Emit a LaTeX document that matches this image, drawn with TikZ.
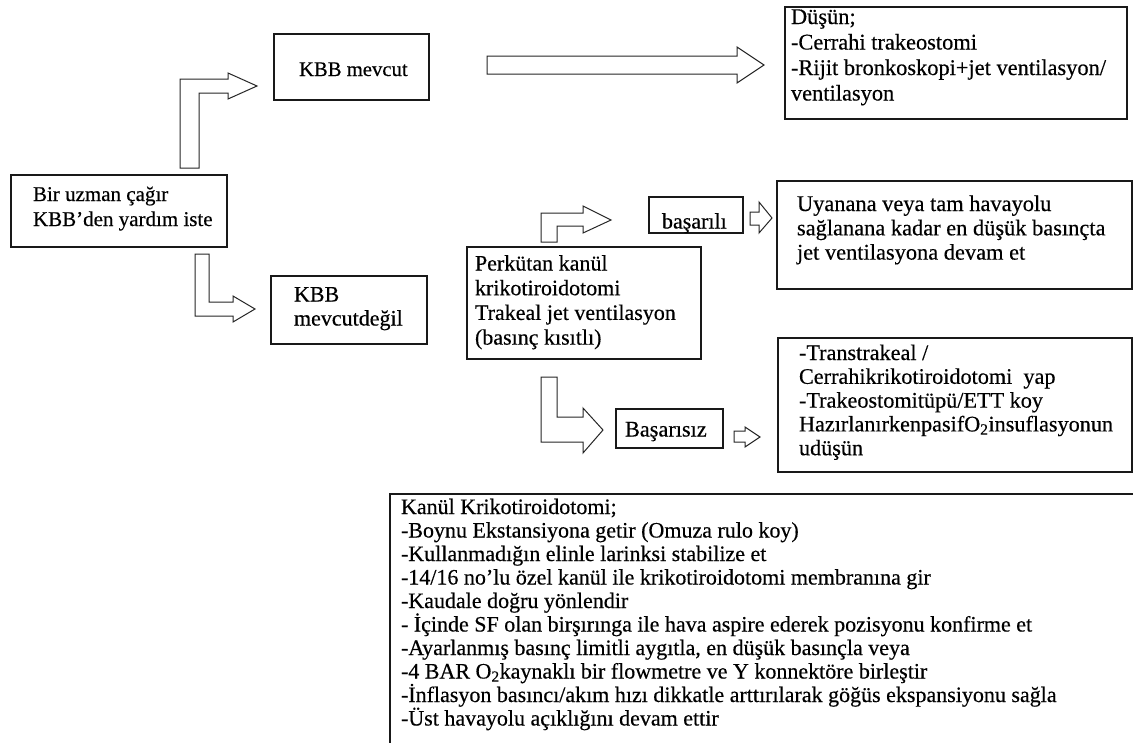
\documentclass[tikz,border=0pt]{standalone}
\usepackage{fontspec}
\setmainfont[FakeBold=0.4]{Liberation Serif}
\newcommand\fsz[2]{\fontsize{#1}{#2}\selectfont\lineskiplimit=-100pt\lineskip=0pt}
\newcommand\fl{\rule{0pt}{18pt}}
\begin{document}
\begin{tikzpicture}[x=1pt,y=-1pt,
  box/.style={draw=black!90, line width=1.3pt, fill=white, anchor=north west, inner sep=0pt, outer sep=0pt},
  txt/.style={anchor=north west, inner sep=0pt, outer sep=0pt, align=left, text=black},
  barrow/.style={draw=black!85, line width=1pt, fill=white, line join=miter}]
\useasboundingbox (0,0) rectangle (1133,742);
\clip (0,0) rectangle (1133,742);
\fill[white] (0,0) rectangle (1133,742);

% boxes
\node[box, minimum width=216pt, minimum height=72pt]  (uzman)     at (11,175)  {};
\node[box, minimum width=155pt, minimum height=66pt]  (mevcut)    at (274,34)  {};
\node[box, minimum width=342pt, minimum height=112pt] (dusun)     at (785,7)   {};
\node[box, minimum width=156pt, minimum height=68pt]  (degil)     at (271,276) {};
\node[box, minimum width=234pt, minimum height=112pt] (perk)      at (467,247) {};
\node[box, minimum width=94pt,  minimum height=36pt]  (basarili)  at (649,197) {};
\node[box, minimum width=355pt, minimum height=108pt] (uyan)      at (777,181) {};
\node[box, minimum width=107pt, minimum height=39pt]  (basarisiz) at (616,409) {};
\node[box, minimum width=354pt, minimum height=134pt] (trans)     at (778,338) {};
\node[box, minimum width=760pt, minimum height=300pt] (kanul)     at (390,494) {};

% texts (node y = first baseline - 18)
\node[txt, font=\fsz{21}{25}] (uzman-t) at (33,183) {\fl Bir uzman çağır\\KBB’den yardım iste};
\node[txt, font=\fsz{20.7}{24}] (mevcut-t) at (299,58) {\fl KBB mevcut};
\node[txt, font=\fsz{22.4}{25.5}] (dusun-t) at (791,6) {\fl Düşün;\\-Cerrahi trakeostomi\\-Rijit bronkoskopi+jet ventilasyon/\\ventilasyon};
\node[txt, font=\fsz{22}{24}] (degil-t) at (294,283.5) {\fl KBB\\mevcutdeğil};
\node[txt, font=\fsz{22}{24.7}] (perk-t) at (475,252.5) {\fl Perkütan kanül\\krikotiroidotomi\\Trakeal jet ventilasyon\\(basınç kısıtlı)};
\node[txt, font=\fsz{22}{24}] (basarili-t) at (662,210.5) {\fl başarılı};
\node[txt, font=\fsz{22.4}{24.3}] (uyan-t) at (797,193) {\fl Uyanana veya tam havayolu\\sağlanana kadar en düşük basınçta\\jet ventilasyona devam et};
\node[txt, font=\fsz{22.2}{23.8}] (trans-t) at (799,342) {\fl -Transtrakeal /\\Cerrahikrikotiroidotomi\ \ yap\\-Trakeostomitüpü/ETT koy\\HazırlanırkenpasifO\textsubscript{2}insuflasyonun\\udüşün};
\node[txt, font=\fsz{22.3}{24}] (basarisiz-t) at (625,418.5) {\fl Başarısız};
\node[txt, font=\fsz{22}{23.5}] (kanul-t) at (401,496) {\fl Kanül Krikotiroidotomi;\\
-Boynu Ekstansiyona getir (Omuza rulo koy)\\
-Kullanmadığın elinle larinksi stabilize et\\
-14/16 no’lu özel kanül ile krikotiroidotomi membranına gir\\
-Kaudale doğru yönlendir\\
- İçinde SF olan birşırınga ile hava aspire ederek pozisyonu konfirme et\\
-Ayarlanmış basınç limitli aygıtla, en düşük basınçla veya\\
-4 BAR O\textsubscript{2}kaynaklı bir flowmetre ve Y konnektöre birleştir\\
-İnflasyon basıncı/akım hızı dikkatle arttırılarak göğüs ekspansiyonu sağla\\
-Üst havayolu açıklığını devam ettir};

% block arrows
\draw[barrow] (180,168) -- (180,79) -- (228,79) -- (228,73) -- (257,86) -- (228,99) -- (228,93) -- (199,93) -- (199,168) -- cycle;
\draw[barrow] (487,56) -- (737,56) -- (737,47) -- (764,65) -- (737,83) -- (737,74) -- (487,74) -- cycle;
\draw[barrow] (195,254) -- (209,254) -- (209,302) -- (233,302) -- (233,296) -- (255,309) -- (233,322) -- (233,316) -- (195,316) -- cycle;
\draw[barrow] (541,242) -- (541,213) -- (583,213) -- (583,206) -- (611,220) -- (583,233) -- (583,226) -- (557,226) -- (557,242) -- cycle;
\draw[barrow] (750,212) -- (759,212) -- (759,202) -- (772,218) -- (759,233) -- (759,225) -- (750,225) -- cycle;
\draw[barrow] (541,377) -- (557,377) -- (557,417) -- (583,417) -- (583,408) -- (603,430) -- (583,453) -- (583,442) -- (541,442) -- cycle;
\draw[barrow] (734,431) -- (745,431) -- (745,427) -- (760,437) -- (745,447) -- (745,442) -- (734,442) -- cycle;
\end{tikzpicture}
\end{document}
